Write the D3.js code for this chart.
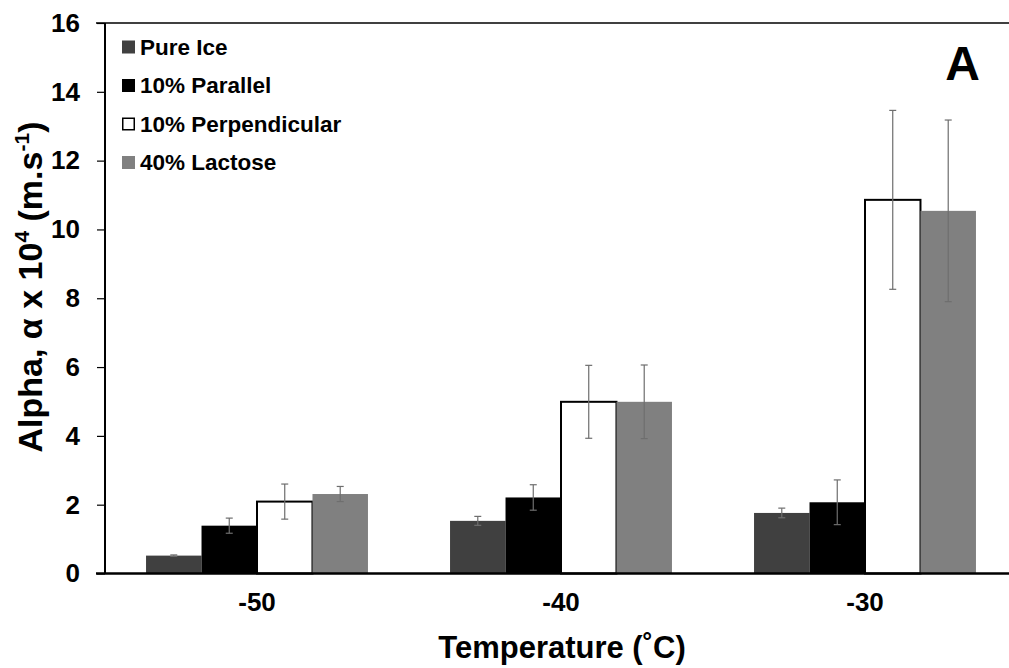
<!DOCTYPE html>
<html>
<head>
<meta charset="utf-8">
<script src="https://cdn.jsdelivr.net/npm/d3@7"></script>
<style>
  html, body { margin: 0; padding: 0; background: #fff; }
  svg { display: block; font-family: "Liberation Sans", Arial, sans-serif; }
</style>
</head>
<body>
<svg id="chart" width="1009" height="668"></svg>
<script>
// Temperatures (x categories) and series names
const temperatures = ["-50", "-40", "-30"];
const seriesNames = ["Pure Ice", "10% Parallel", "10% Perpendicular", "40% Lactose"];
const seriesColors = ["#404040", "#000000", "#ffffff", "#808080"];

// Alpha x 10^4 (m.s^-1), one array per series, ordered by temperature
const pureIce         = [0.52, 1.53, 1.76];
const parallel10      = [1.39, 2.21, 2.07];
const perpendicular10 = [2.09, 4.99, 10.86];
const lactose40       = [2.31, 4.99, 10.54];

// Error bar half-widths (±)
const pureIceErr         = [0.02, 0.13, 0.14];
const parallel10Err      = [0.22, 0.37, 0.65];
const perpendicular10Err = [0.51, 1.06, 2.60];
const lactose40Err       = [0.22, 1.07, 2.64];

const yTicks = [0, 2, 4, 6, 8, 10, 12, 14, 16];

const seriesValues = [pureIce, parallel10, perpendicular10, lactose40];
const seriesErrors = [pureIceErr, parallel10Err, perpendicular10Err, lactose40Err];

const svg = d3.select("#chart");

const plotLeft = 105, plotTop = 23, plotBottom = 573.5, plotRight = 1017;

const x0 = d3.scaleBand()
  .domain(temperatures)
  .range([plotLeft, plotRight])
  .paddingInner(0.27)
  .paddingOuter(0.135);

const x1 = d3.scaleBand()
  .domain(seriesNames)
  .range([0, x0.bandwidth()])
  .padding(0);

const y = d3.scaleLinear().domain([0, 16]).range([plotBottom, plotTop]);

// Flatten into one record per bar
const bars = [];
temperatures.forEach((t, i) => {
  seriesNames.forEach((s, j) => {
    bars.push({ temp: t, series: s, idx: j, value: seriesValues[j][i], err: seriesErrors[j][i] });
  });
});

// Top frame line
svg.append("line")
  .attr("x1", 96).attr("x2", 1009)
  .attr("y1", y(16)).attr("y2", y(16))
  .attr("stroke", "#000").attr("stroke-width", 1.5);

// Bars
const barG = svg.append("g");
barG.selectAll("rect")
  .data(bars)
  .join("rect")
  .attr("x", d => x0(d.temp) + x1(d.series))
  .attr("y", d => y(d.value))
  .attr("width", x1.bandwidth())
  .attr("height", d => y(0) - y(d.value))
  .attr("fill", d => seriesColors[d.idx])
  .attr("stroke", d => d.idx === 2 ? "#000" : "none")
  .attr("stroke-width", d => d.idx === 2 ? 2 : 0);

// Error bars
const errG = svg.append("g")
  .attr("stroke", "#6e6e6e")
  .attr("stroke-width", 1.2);
const capHalf = 3.5;
bars.forEach(d => {
  const cx = x0(d.temp) + x1(d.series) + x1.bandwidth() / 2;
  const yTop = y(d.value + d.err), yBot = y(d.value - d.err);
  errG.append("line").attr("x1", cx).attr("x2", cx).attr("y1", yTop).attr("y2", yBot);
  errG.append("line").attr("x1", cx - capHalf).attr("x2", cx + capHalf).attr("y1", yTop).attr("y2", yTop);
  errG.append("line").attr("x1", cx - capHalf).attr("x2", cx + capHalf).attr("y1", yBot).attr("y2", yBot);
});

// Y axis
const yAxis = d3.axisLeft(y)
  .tickValues(yTicks)
  .tickSize(8)
  .tickPadding(17)
  .tickFormat(d3.format("d"));
const yG = svg.append("g")
  .attr("transform", `translate(${plotLeft},0)`)
  .call(yAxis);
yG.select(".domain").attr("stroke", "#000").attr("stroke-width", 2).attr("d", `M0,${plotTop}V${plotBottom}`);
yG.selectAll(".tick line").attr("stroke", "#000").attr("stroke-width", 1.2);
yG.selectAll(".tick text")
  .attr("font-size", 26).attr("font-weight", "bold").attr("fill", "#000")
  .attr("font-family", "'Liberation Sans', Arial, sans-serif");

// X axis
const xAxis = d3.axisBottom(x0).tickSize(0).tickPadding(19);
const xG = svg.append("g")
  .attr("transform", `translate(0,${plotBottom})`)
  .call(xAxis);
xG.select(".domain").attr("stroke", "#000").attr("stroke-width", 2.5).attr("d", `M${plotLeft - 9},0H1009`);
xG.selectAll(".tick text")
  .attr("font-size", 26).attr("font-weight", "bold").attr("fill", "#000")
  .attr("font-family", "'Liberation Sans', Arial, sans-serif");

// Axis titles
svg.append("text")
  .attr("x", 562).attr("y", 658)
  .attr("text-anchor", "middle")
  .attr("font-size", 31).attr("font-weight", "bold")
  .text("Temperature (˚C)");

const yTitle = svg.append("text")
  .attr("transform", "translate(42,287) rotate(-90)")
  .attr("text-anchor", "middle")
  .attr("font-size", 34).attr("font-weight", "bold");
yTitle.append("tspan").text("Alpha, α x 10");
yTitle.append("tspan").attr("font-size", 21).attr("dy", -13).text("4");
yTitle.append("tspan").attr("dy", 13).text(" (m.s");
yTitle.append("tspan").attr("font-size", 21).attr("dy", -13).text("-1");
yTitle.append("tspan").attr("dy", 13).text(")");

// Panel letter
svg.append("text")
  .attr("x", 962.5).attr("y", 80)
  .attr("text-anchor", "middle")
  .attr("font-size", 48).attr("font-weight", "bold")
  .text("A");

// Legend
const legend = svg.append("g").attr("transform", "translate(122,47)");
const rowH = 38.5;
seriesNames.forEach((s, j) => {
  const g = legend.append("g").attr("transform", `translate(0,${j * rowH})`);
  g.append("rect")
    .attr("x", j === 2 ? 0.75 : 0).attr("y", j === 2 ? -5.75 : -6.5)
    .attr("width", j === 2 ? 11.5 : 13).attr("height", j === 2 ? 11.5 : 13)
    .attr("fill", seriesColors[j])
    .attr("stroke", j === 2 ? "#000" : "none")
    .attr("stroke-width", 1.5);
  g.append("text")
    .attr("x", 18).attr("y", 7.5)
    .attr("font-size", 22.5).attr("font-weight", "bold")
    .text(s);
});
</script>
</body>
</html>
